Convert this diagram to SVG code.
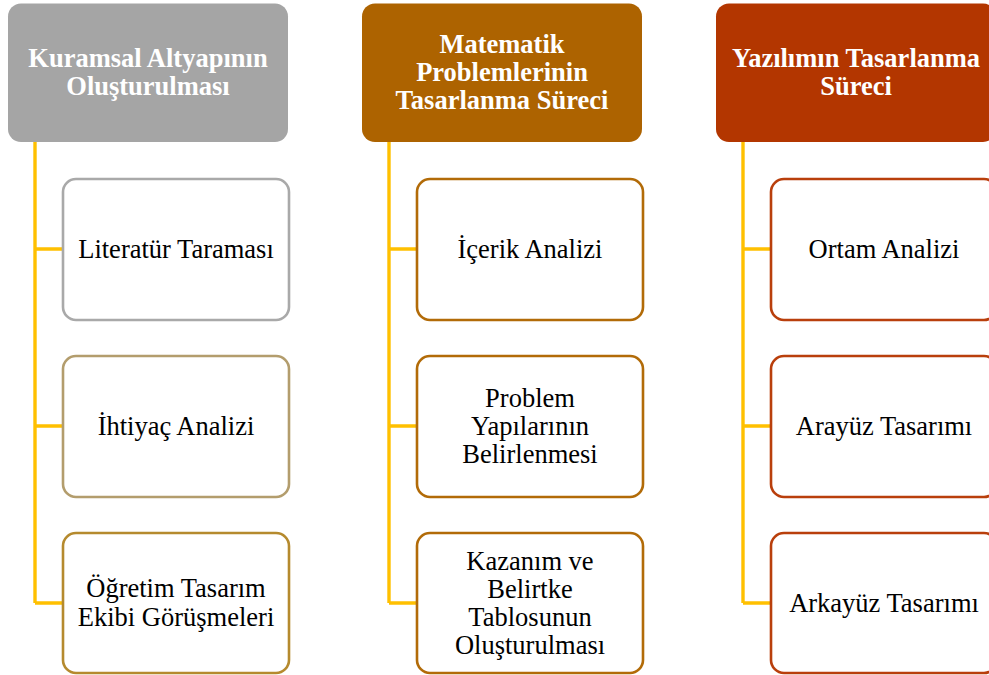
<svg xmlns="http://www.w3.org/2000/svg" width="989" height="675" viewBox="0 0 989 675">
  <style>
    .head { stroke: none; }
    .head-text { font-weight: bold; font-size: 26.5px; fill: #ffffff; text-anchor: middle; }
    .child { fill: #ffffff; stroke-width: 2.6; }
    .child-text { font-size: 26.5px; fill: #000000; text-anchor: middle; }
    .conn { fill: none; stroke: #FFC000; stroke-width: 3.4; }
  </style>
  <rect width="989" height="675" fill="#ffffff"/>

  <!-- connectors -->
  <g id="connectors">
    <path class="conn" d="M35,142 V603 M35,249 H63 M35,426 H63 M35,603 H63"/>
    <path class="conn" d="M389,142 V603 M389,249 H417 M389,426 H417 M389,603 H417"/>
    <path class="conn" d="M743,142 V603 M743,249 H771 M743,426 H771 M743,603 H771"/>
  </g>

  <g font-family="Liberation Serif, Times New Roman, serif">
  <!-- column 1 -->
  <g id="head1">
    <rect class="head" x="8" y="3.5" width="280" height="138.5" rx="13" fill="#A5A5A5"/>
    <text class="head-text" x="148" y="67">Kuramsal Altyapının</text>
    <text class="head-text" x="148" y="95">Oluşturulması</text>
  </g>
  <g id="n1a">
    <rect class="child" x="63" y="179" width="226" height="141" rx="13" stroke="#A9A9A9"/>
    <text class="child-text" x="176" y="258">Literatür Taraması</text>
  </g>
  <g id="n1b">
    <rect class="child" x="63" y="356" width="226" height="141" rx="13" stroke="#B39D6D"/>
    <text class="child-text" x="176" y="435">İhtiyaç Analizi</text>
  </g>
  <g id="n1c">
    <rect class="child" x="63" y="533" width="226" height="140" rx="13" stroke="#B58A2E"/>
    <text class="child-text" x="176" y="597">Öğretim Tasarım</text>
    <text class="child-text" x="176" y="626">Ekibi Görüşmeleri</text>
  </g>

  <!-- column 2 -->
  <g id="head2">
    <rect class="head" x="362" y="3.5" width="280" height="138.5" rx="13" fill="#AD6300"/>
    <text class="head-text" x="502" y="53">Matematik</text>
    <text class="head-text" x="502" y="81">Problemlerinin</text>
    <text class="head-text" x="502" y="109">Tasarlanma Süreci</text>
  </g>
  <g id="n2a">
    <rect class="child" x="417" y="179" width="226" height="141" rx="13" stroke="#B26B08"/>
    <text class="child-text" x="530" y="258">İçerik Analizi</text>
  </g>
  <g id="n2b">
    <rect class="child" x="417" y="356" width="226" height="141" rx="13" stroke="#B26B08"/>
    <text class="child-text" x="530" y="407">Problem</text>
    <text class="child-text" x="530" y="435">Yapılarının</text>
    <text class="child-text" x="530" y="463">Belirlenmesi</text>
  </g>
  <g id="n2c">
    <rect class="child" x="417" y="533" width="226" height="140" rx="13" stroke="#B26B08"/>
    <text class="child-text" x="530" y="570">Kazanım ve</text>
    <text class="child-text" x="530" y="598">Belirtke</text>
    <text class="child-text" x="530" y="626">Tablosunun</text>
    <text class="child-text" x="530" y="654">Oluşturulması</text>
  </g>

  <!-- column 3 -->
  <g id="head3">
    <rect class="head" x="716" y="3.5" width="280" height="138.5" rx="13" fill="#B33600"/>
    <text class="head-text" x="856" y="67">Yazılımın Tasarlanma</text>
    <text class="head-text" x="856" y="95">Süreci</text>
  </g>
  <g id="n3a">
    <rect class="child" x="771" y="179" width="226" height="141" rx="13" stroke="#B93F0C"/>
    <text class="child-text" x="884" y="258">Ortam Analizi</text>
  </g>
  <g id="n3b">
    <rect class="child" x="771" y="356" width="226" height="141" rx="13" stroke="#B93F0C"/>
    <text class="child-text" x="884" y="435">Arayüz Tasarımı</text>
  </g>
  <g id="n3c">
    <rect class="child" x="771" y="533" width="226" height="140" rx="13" stroke="#B93F0C"/>
    <text class="child-text" x="884" y="612">Arkayüz Tasarımı</text>
  </g>
  </g>
</svg>
